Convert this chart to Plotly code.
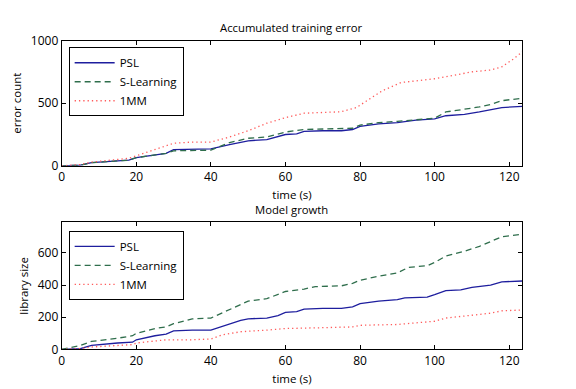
import plotly.graph_objects as go

# ---- Data: Accumulated training error ----
err_t_psl = [0, 5, 8, 10, 15, 18, 20, 25, 28, 30, 35, 40, 45, 50, 55, 60, 63, 65, 70, 75, 78, 80, 85, 90, 95, 100, 103, 108, 112, 115, 118, 123.5]
err_psl = [0, 5, 25, 30, 40, 45, 65, 90, 100, 130, 135, 135, 170, 200, 210, 250, 255, 275, 280, 280, 290, 315, 335, 345, 365, 375, 400, 410, 430, 445, 465, 475]

err_t_sl = [0, 5, 8, 10, 15, 18, 20, 25, 28, 30, 35, 40, 45, 50, 55, 60, 65, 70, 78, 80, 85, 90, 95, 100, 103, 108, 112, 115, 118, 123.5]
err_sl = [0, 5, 25, 30, 40, 45, 65, 90, 100, 120, 122, 125, 185, 220, 230, 270, 290, 295, 300, 325, 345, 355, 370, 380, 430, 450, 470, 490, 520, 540]

err_t_1mm = [0, 5, 8, 15, 18, 20, 25, 30, 35, 40, 45, 50, 55, 60, 65, 70, 75, 79, 82, 86, 91, 95, 100, 105, 110, 115, 118, 121, 123.5]
err_1mm = [0, 10, 30, 50, 60, 80, 130, 180, 190, 190, 230, 280, 340, 385, 420, 428, 432, 465, 525, 600, 665, 678, 695, 722, 750, 765, 790, 850, 910]

# ---- Data: Model growth ----
lib_t_psl = [0, 5, 8, 10, 15, 19, 20, 25, 28, 30, 35, 40, 45, 48, 50, 55, 58, 60, 63, 65, 70, 75, 78, 80, 85, 90, 92, 98, 100, 103, 107, 110, 115, 118, 123.5]
lib_psl = [0, 5, 25, 30, 40, 45, 60, 85, 95, 115, 120, 120, 160, 180, 190, 195, 210, 230, 235, 250, 255, 255, 265, 285, 300, 310, 320, 325, 340, 365, 370, 385, 400, 420, 425]

lib_t_sl = [0, 5, 8, 10, 15, 19, 20, 25, 28, 30, 33, 35, 40, 45, 50, 55, 60, 65, 68, 75, 78, 80, 85, 90, 93, 98, 100, 103, 108, 112, 115, 118, 123.5]
lib_sl = [0, 25, 50, 55, 70, 85, 100, 130, 140, 160, 180, 190, 195, 250, 300, 315, 360, 375, 390, 395, 410, 430, 455, 475, 510, 520, 540, 580, 610, 640, 670, 700, 715]

lib_t_1mm = [0, 5, 8, 15, 19, 20, 25, 28, 35, 40, 43, 48, 55, 60, 70, 78, 80, 90, 95, 100, 103, 110, 115, 118, 123.5]
lib_1mm = [0, 5, 15, 25, 30, 40, 50, 60, 60, 65, 90, 110, 120, 130, 135, 140, 150, 155, 165, 175, 195, 210, 225, 240, 245]

names = ["PSL", "S-Learning", "1MM"]
colors = ["#1e1e9e", "#2f6e4c", "#ff5a5a"]
dashes = ["solid", "6px,4px", "1.3px,3px"]
widths = [1.3, 1.3, 1.3]

FONT = "Open Sans"

fig = go.Figure()

top = [(err_t_psl, err_psl), (err_t_sl, err_sl), (err_t_1mm, err_1mm)]
bot = [(lib_t_psl, lib_psl), (lib_t_sl, lib_sl), (lib_t_1mm, lib_1mm)]

for i, (x, y) in enumerate(top):
    fig.add_trace(go.Scatter(x=x, y=y, mode="lines", name=names[i],
                             line=dict(color=colors[i], dash=dashes[i], width=widths[i]),
                             xaxis="x", yaxis="y", legend="legend"))
for i, (x, y) in enumerate(bot):
    fig.add_trace(go.Scatter(x=x, y=y, mode="lines", name=names[i],
                             line=dict(color=colors[i], dash=dashes[i], width=widths[i]),
                             xaxis="x2", yaxis="y2", legend="legend2"))

ax_common = dict(showline=True, linecolor="black", linewidth=1, mirror="allticks",
                 ticks="inside", ticklen=4, tickcolor="black", showgrid=False,
                 zeroline=False, tickfont=dict(size=12, color="black", family=FONT))

x0, x1 = 59 / 576, 522 / 576

fig.update_layout(
    width=576, height=389,
    margin=dict(l=0, r=0, t=0, b=0),
    paper_bgcolor="white", plot_bgcolor="white",
    font=dict(family=FONT, size=11, color="black"),
    xaxis=dict(domain=[x0, x1], range=[0, 123.5], tickvals=[0, 20, 40, 60, 80, 100, 120],
               anchor="y", title=dict(text="time (s)", standoff=6, font=dict(size=11.5)), **ax_common),
    yaxis=dict(domain=[1 - 164 / 389, 1 - 33 / 389], range=[0, 1000], tickvals=[0, 500, 1000],
               anchor="x", title=dict(text="error count", standoff=6, font=dict(size=11.5)), **ax_common),
    xaxis2=dict(domain=[x0, x1], range=[0, 123.5], tickvals=[0, 20, 40, 60, 80, 100, 120],
                anchor="y2", title=dict(text="time (s)", standoff=7, font=dict(size=11.5)), **ax_common),
    yaxis2=dict(domain=[1 - 356 / 389, 1 - 223 / 389], range=[0, 790], tickvals=[0, 200, 400, 600],
                anchor="x2", title=dict(text="library size", standoff=6, font=dict(size=11.5)), **ax_common),
    legend=dict(x=66 / 576, y=1 - 40 / 389, xanchor="left", yanchor="top",
                bordercolor="black", borderwidth=1, bgcolor="white",
                font=dict(size=11.5, family=FONT), tracegroupgap=0, itemwidth=40),
    legend2=dict(x=66 / 576, y=1 - 232 / 389, xanchor="left", yanchor="top",
                 bordercolor="black", borderwidth=1, bgcolor="white",
                 font=dict(size=11.5, family=FONT), tracegroupgap=0, itemwidth=40),
    annotations=[
        dict(text="Accumulated training error", x=(x0 + x1) / 2, y=1 - 19 / 389, xref="paper", yref="paper",
             showarrow=False, font=dict(size=11.3, family=FONT), xanchor="center", yanchor="middle"),
        dict(text="Model growth", x=(x0 + x1) / 2, y=1 - 210 / 389, xref="paper", yref="paper",
             showarrow=False, font=dict(size=11.3, family=FONT), xanchor="center", yanchor="middle"),
    ],
)

fig.write_html("out.html")
